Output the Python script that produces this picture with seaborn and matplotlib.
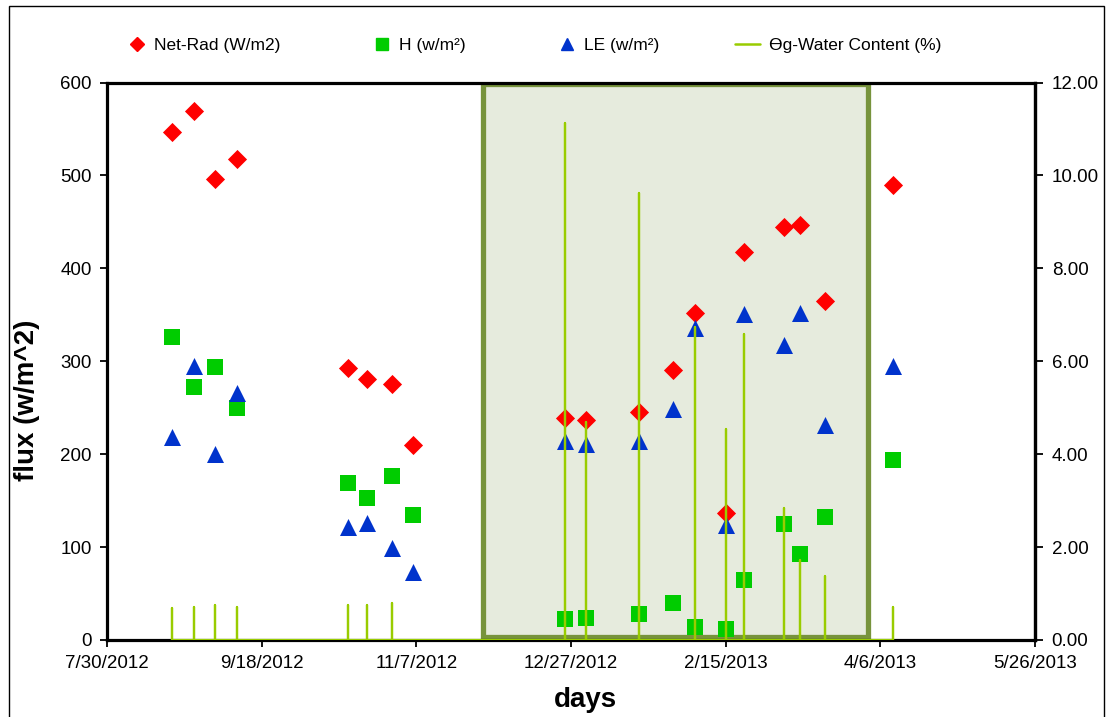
import numpy as np
import pandas as pd
import matplotlib
matplotlib.use("Agg")
import matplotlib.pyplot as plt
import matplotlib.dates as mdates
from matplotlib.lines import Line2D
from matplotlib.patches import Rectangle
import seaborn as sns

# ---------------- data ----------------
sample_dates = ["2012-08-20", "2012-08-27", "2012-09-03", "2012-09-10",
                "2012-10-16", "2012-10-22", "2012-10-30", "2012-11-06",
                "2012-12-25", "2013-01-01", "2013-01-18", "2013-01-29",
                "2013-02-05", "2013-02-15", "2013-02-21", "2013-03-06",
                "2013-03-11", "2013-03-19", "2013-04-10"]
net_rad = [547, 569, 496, 518, 293, 281, 276, 210, 239, 237, 245, 291,
           352, 137, 418, 445, 447, 365, 490]
h_flux = [326, 272, 294, 250, 169, 153, 176, 135, 23, 24, 28, 40,
          14, 12, 65, 125, 93, 132, 194]
le_flux = [218, 295, 200, 266, 122, 126, 99, 73, 214, 211, 214, 249,
           336, 124, 351, 317, 352, 231, 295]

wc_dates = ["2012-08-20", "2012-08-27", "2012-09-03", "2012-09-10",
            "2012-10-16", "2012-10-22", "2012-10-30",
            "2012-12-25", "2013-01-01", "2013-01-18", "2013-02-05",
            "2013-02-15", "2013-02-21", "2013-03-06", "2013-03-11",
            "2013-03-19", "2013-04-10"]
wc_values = [0.68, 0.72, 0.75, 0.72, 0.75, 0.75, 0.80,
             11.13, 4.69, 9.63, 6.73, 4.54, 6.58, 2.85, 1.72, 1.38, 0.72]

xtick_labels = ["7/30/2012", "9/18/2012", "11/7/2012", "12/27/2012",
                "2/15/2013", "4/6/2013", "5/26/2013"]
flux_ticks = [0, 100, 200, 300, 400, 500, 600]
wc_ticks = [0, 2, 4, 6, 8, 10, 12]

shade_start = "2012-11-28 12:00"
shade_end = "2013-04-01 22:00"
shade_low, shade_high = 3, 598

series_names = ["Net-Rad (W/m2)", "H (w/m\u00b2)", "LE (w/m\u00b2)",
                "\u04e8g-Water Content (%)"]

# ---------------- style ----------------
sns.set_style("white")
plt.rcParams["font.family"] = ["Liberation Sans", "DejaVu Sans"]
plt.rcParams["text.color"] = "black"
plt.rcParams["axes.labelcolor"] = "black"
plt.rcParams["xtick.color"] = "black"
plt.rcParams["ytick.color"] = "black"

RED = "#FF0000"
GREEN = "#00CC00"
BLUE = "#0033CC"
LIME = "#99CC00"
SHADE_FACE = "#E6EBDD"
SHADE_EDGE = "#77933C"

W, H = 1116, 717
fig = plt.figure(figsize=(W / 100, H / 100), dpi=100)
ax = fig.add_axes([107 / W, 1 - 640 / H, (1035 - 107) / W, (640 - 82.5) / H])

df = pd.DataFrame({"date": pd.to_datetime(sample_dates),
                   "net": net_rad, "H": h_flux, "LE": le_flux})

# shaded period
rx0 = mdates.date2num(pd.Timestamp(shade_start))
rx1 = mdates.date2num(pd.Timestamp(shade_end))
ax.add_patch(Rectangle((rx0, shade_low), rx1 - rx0, shade_high - shade_low,
                       facecolor=SHADE_FACE, edgecolor=SHADE_EDGE, lw=3.8,
                       zorder=1))

sns.scatterplot(data=df, x="date", y="net", ax=ax, marker="D", color=RED,
                s=95, linewidth=0, zorder=3)
sns.scatterplot(data=df, x="date", y="H", ax=ax, marker="s", color=GREEN,
                s=140, linewidth=0, zorder=3)
sns.scatterplot(data=df, x="date", y="LE", ax=ax, marker="^", color=BLUE,
                s=150, linewidth=0, zorder=3)

ax.set_xlim(pd.Timestamp("2012-07-30"), pd.Timestamp("2013-05-26"))
ax.set_ylim(0, 600)
ax.set_xticks(pd.to_datetime(xtick_labels, format="%m/%d/%Y"))
ax.set_xticklabels(xtick_labels, fontsize=13.5)
ax.set_yticks(flux_ticks)
ax.set_yticklabels([str(v) for v in flux_ticks], fontsize=13.5)
ax.tick_params(axis="both", direction="out", length=5, width=1.3, pad=6,
               colors="black", bottom=True, left=True)
ax.set_xlabel("days", fontsize=20, fontweight="bold", color="black")
ax.set_ylabel("flux (w/m^2)", fontsize=20, fontweight="bold", color="black")
ax.xaxis.set_label_coords((585 - 107) / 928, -0.085)
ax.yaxis.set_label_coords(-0.072, 0.43)
for sp in ax.spines.values():
    sp.set_color("black")
    sp.set_linewidth(2.3)
    sp.set_visible(True)

# water content on secondary axis
ax2 = ax.twinx()
xs, ys = [], []
for d, v in zip(pd.to_datetime(wc_dates), wc_values):
    xs += [d, d, d]
    ys += [0, v, 0]
sns.lineplot(x=xs, y=ys, ax=ax2, sort=False, estimator=None, color=LIME,
             lw=1.6)
ax2.set_ylim(0, 12)
ax2.set_yticks(wc_ticks)
ax2.set_yticklabels([f"{v:.2f}" for v in wc_ticks], fontsize=13.5)
ax2.tick_params(axis="y", direction="out", length=6, width=1.3, pad=6,
                colors="black", right=True)
ax2.set_ylabel("")
for name, sp in ax2.spines.items():
    sp.set_visible(name == "right")
ax2.spines["right"].set_linewidth(2.3)
ax2.spines["right"].set_color("black")
ax.set_xlim(pd.Timestamp("2012-07-30"), pd.Timestamp("2013-05-26"))

# legend entries placed across the top
handles = [
    Line2D([0], [0], marker="D", color=RED, ls="none", markersize=7),
    Line2D([0], [0], marker="s", color=GREEN, ls="none", markersize=8.5),
    Line2D([0], [0], marker="^", color=BLUE, ls="none", markersize=9),
    Line2D([0], [0], color=LIME, lw=1.8),
]
starts = [128, 373, 558, 735]
lengths = [1.0, 1.0, 1.0, 1.44]
for hnd, lab, sx, hl in zip(handles, series_names, starts, lengths):
    fig.legend(handles=[hnd], labels=[lab], loc="center left",
               bbox_to_anchor=(sx / W, 1 - 45 / H), frameon=False,
               fontsize=12.5, handlelength=hl, handletextpad=0.5,
               borderpad=0, borderaxespad=0, labelcolor="black")

# chart-area border
fig.add_artist(Rectangle((9 / W, -0.05), (1104 - 9) / W, (717 - 6) / H + 0.05,
                         transform=fig.transFigure, fill=False,
                         edgecolor="black", lw=1.0))

fig.savefig("out.png", dpi=100)
